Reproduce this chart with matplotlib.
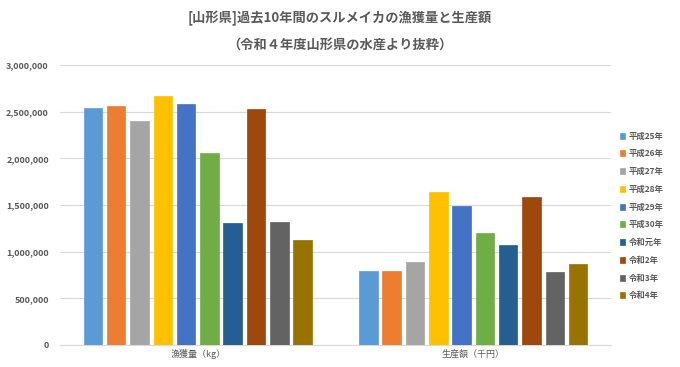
import matplotlib
matplotlib.use("Agg")
import matplotlib.pyplot as plt
import numpy as np
from matplotlib.ticker import FuncFormatter

plt.rcParams['font.family'] = ['Noto Sans CJK JP', 'DejaVu Sans']

categories = ['漁獲量（kg）', '生産額（千円）']
years = ['平成25年', '平成26年', '平成27年', '平成28年', '平成29年', '平成30年',
         '令和元年', '令和2年', '令和3年', '令和4年']
catch_kg = [2537000, 2561000, 2397000, 2665000, 2579000, 2057000,
            1307000, 2526000, 1315000, 1122000]
value_kyen = [793000, 793000, 889000, 1639000, 1493000, 1196000,
              1068000, 1582000, 782000, 871000]
colors = ['#5B9BD5', '#ED7D31', '#A5A5A5', '#FFC000', '#4472C4', '#70AD47',
          '#255E91', '#9E480E', '#636363', '#997300']

fig = plt.figure(figsize=(6.8, 3.67), dpi=100)
ax = fig.add_axes([60/680, 1-345/367, 551/680, 280/367])

n = len(years)
slot = 0.0846
bw = 0.067
x = np.arange(len(categories))
for i, (y, c) in enumerate(zip(years, colors)):
    vals = [catch_kg[i], value_kyen[i]]
    ax.bar(x + (i - (n-1)/2)*slot, vals, width=bw, color=c, label=y,
           edgecolor=c, linewidth=0.5, zorder=3)

ax.set_xlim(-0.5, 1.5)
ax.set_ylim(0, 3000000)
ax.set_yticks(np.arange(0, 3000001, 500000))
ax.yaxis.set_major_formatter(FuncFormatter(lambda v, p: f'{int(v):,}'))
ax.set_xticks(x)
ax.set_xticklabels(categories, fontsize=6.5, color='#595959')
ax.tick_params(axis='y', labelsize=6.5, labelcolor='#595959', length=0, pad=8)
ax.tick_params(axis='x', length=0, pad=3)
for lab in ax.get_yticklabels():
    lab.set_fontweight('bold')
ax.grid(axis='y', color='#D9D9D9', linewidth=0.8, zorder=0)
for s in ['top', 'right', 'left']:
    ax.spines[s].set_visible(False)
ax.spines['bottom'].set_color('#D9D9D9')

fig.text(0.5, 1-18/367, '[山形県]過去10年間のスルメイカの漁獲量と生産額', ha='center', va='center',
         fontsize=9.5, color='#595959', fontweight='bold')
fig.text(0.5, 1-45/367, '（令和４年度山形県の水産より抜粋）', ha='center', va='center',
         fontsize=9.5, color='#595959', fontweight='bold')

leg = fig.legend(loc='upper left', bbox_to_anchor=(612/680, 1-124/367), frameon=False,
                 fontsize=6, handlelength=0.7, handleheight=0.7, handletextpad=0.4,
                 labelspacing=1.05, labelcolor='#595959')
for t in leg.get_texts():
    t.set_fontweight('bold')

fig.savefig('out.png', dpi=100)
